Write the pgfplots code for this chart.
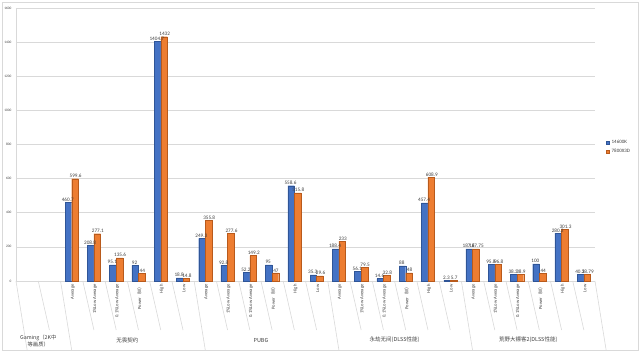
\documentclass[border=0pt]{standalone}
\usepackage{pgfplots}
\pgfplotsset{compat=1.18}
\usepackage{pgfplotstable}
\usepackage{fontspec}
\setmainfont{Carlito}
\newfontfamily\cjk{Noto Sans CJK SC}
\definecolor{sblue}{HTML}{4472C4}
\definecolor{sblueD}{HTML}{2F5597}
\definecolor{sorange}{HTML}{ED7D31}
\definecolor{sorangeD}{HTML}{B85A1C}
\definecolor{gridc}{HTML}{D9D9D9}
\definecolor{txt}{HTML}{404040}

\pgfplotstableread{
x y
2 460.7
3 208.8
4 95.1
5 92
6 1404.7
7 18.8
8 249.3
9 92.8
10 52.2
11 95
12 558.6
13 35.3
14 188.4
15 56.1
16 14.6
17 88
18 457.4
19 2.3
20 187.6
21 95.8
22 38.3
23 100
24 280.3
25 40.3
}\blue

\pgfplotstableread{
x y
2 599.6
3 277.1
4 135.6
5 44
6 1432
7 14.8
8 355.8
9 277.6
10 149.2
11 47
12 515.8
13 29.6
14 233
15 79.5
16 32.8
17 48
18 608.9
19 5.7
20 187.75
21 96.8
22 38.9
23 44
24 301.3
25 38.79
}\orange

\begin{document}
\begin{tikzpicture}
\begin{axis}[
  at={(16pt,74pt)}, anchor=south west,
  scale only axis,
  width=579pt, height=273pt,
  xmin=-0.5, xmax=25.5,
  ymin=0, ymax=1600,
  ytick distance=200,
  ymajorgrids,
  grid style={gridc, line width=0.7pt},
  axis x line*=bottom, axis y line*=left,
  axis line style={gridc, line width=0.7pt},
  major tick length=0pt,
  xtick={2,...,25},
  xticklabels={Average,1\%Low Average,0.1\%Low Average,Power{\cjk（W）},High,Low,
               Average,1\%Low Average,0.1\%Low Average,Power{\cjk（W）},High,Low,
               Average,1\%Low Average,0.1\%Low Average,Power{\cjk（W）},High,Low,
               Average,1\%Low Average,0.1\%Low Average,Power{\cjk（W）},High,Low},
  xticklabel style={rotate=90, anchor=east, font=\fontsize{4.6}{5}\selectfont, text=txt, yshift=-1pt},
  yticklabel style={font=\fontsize{3.5}{4}\selectfont, text=txt, xshift=-1pt},
  /pgf/number format/assume math mode=true,
  /pgf/number format/1000 sep={},
  ybar=0pt, bar width=6.6pt,
  nodes near coords,
  nodes near coords style={font=\fontsize{5.2}{6}\selectfont, text=txt, inner sep=0.8pt,
     /pgf/number format/assume math mode=true, /pgf/number format/1000 sep={}, /pgf/number format/precision=2},
  clip=false,
  legend style={draw=none, fill=none, font=\fontsize{5}{6}\selectfont, text=txt,
     at={(1,0.49)}, anchor=west, xshift=11pt, row sep=0.5pt, inner sep=0pt},
  legend cell align=left,
  legend image code/.code={\fill[#1] (0pt,-1.6pt) rectangle (3.2pt,1.6pt);},
]
\addplot[fill=sblue, draw=sblueD, line width=0.3pt, nodes near coords style={xshift=-0.6pt}] table[x=x,y=y]{\blue};
\addplot[fill=sorange, draw=sorangeD, line width=0.3pt, nodes near coords style={xshift=0.6pt}] table[x=x,y=y]{\orange};
\legend{14600K,7800X3D}

% table separators
\pgfplotsinvokeforeach{0.5,2.5,3.5,4.5,5.5,6.5,8.5,9.5,10.5,11.5,12.5,14.5,15.5,16.5,17.5,18.5,20.5,21.5,22.5,23.5,24.5}{
  \draw[gridc, line width=0.6pt] (axis cs:#1,0) -- ++(0,-49pt);
}
\pgfplotsinvokeforeach{-0.5,1.5,7.5,13.5,19.5,25.5}{
  \draw[gridc, line width=0.6pt] (axis cs:#1,0) -- ++(0,-69pt);
}
\node[font=\cjk\fontsize{5.3}{6.8}\selectfont, text=txt, align=center] at ([yshift=-60pt]axis cs:0.5,0) {Gaming（2K中\\等画质）};
\node[font=\cjk\fontsize{5.5}{6}\selectfont, text=txt] at ([yshift=-59pt]axis cs:4.5,0) {无畏契约};
\node[font=\cjk\fontsize{5.5}{6}\selectfont, text=txt] at ([yshift=-59pt]axis cs:10.5,0) {PUBG};
\node[font=\cjk\fontsize{5.5}{6}\selectfont, text=txt] at ([yshift=-59pt]axis cs:16.5,0) {永劫无间(DLSS性能)};
\node[font=\cjk\fontsize{5.5}{6}\selectfont, text=txt] at ([yshift=-59pt]axis cs:22.5,0) {荒野大镖客2(DLSS性能)};
\end{axis}
\draw[gridc, line width=0.8pt] (2pt,5pt) rectangle (638pt,353pt);
\path[use as bounding box] (0,0) rectangle (640pt,355pt);
\end{tikzpicture}
\end{document}
